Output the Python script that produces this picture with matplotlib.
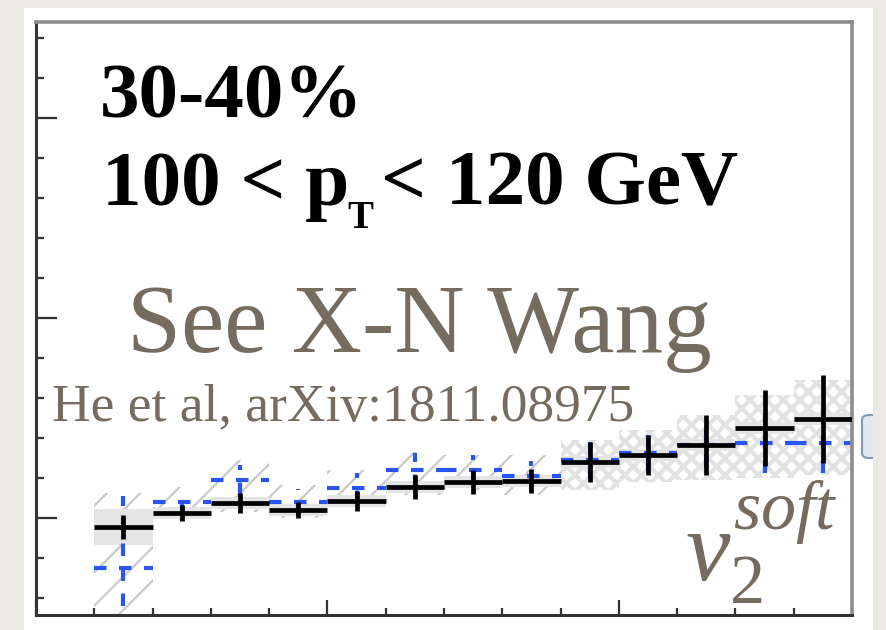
import numpy as np
import matplotlib.pyplot as plt
from matplotlib.patches import Rectangle, FancyBboxPatch

# bin edges in the jet variable, one bin per 0.1
bin_lo = [0.1, 0.2, 0.3, 0.4, 0.5, 0.6, 0.7, 0.8, 0.9, 1.0, 1.1, 1.2, 1.3]
bin_w = 0.1

# measured v2 (black) with stat. errors
data_v2 = [0.0478, 0.0512, 0.0538, 0.0520, 0.0543, 0.0578, 0.0590, 0.0593,
           0.0640, 0.0658, 0.0683, 0.0725, 0.0748]
data_err = [0.003, 0.002, 0.0025, 0.002, 0.0025, 0.003, 0.003, 0.003,
            0.005, 0.005, 0.0075, 0.0095, 0.011]
data_sys = [0.0045, 0.0015, 0.0015, 0.0015, 0.0015, 0.0015, 0.0015, 0.0015,
            0.0015, 0.0015, 0.0015, 0.0015, 0.0015]

# model curve (blue dashed) with errors
model_v2 = [0.0375, 0.0540, 0.0595, 0.0540, 0.0575, 0.0620, 0.0620, 0.0605,
            0.0645, 0.0663, 0.0683, 0.0688, 0.0688]
model_err = [0.018, 0.003, 0.0038, 0.0032, 0.0038, 0.0042, 0.0038, 0.0038,
             0.0045, 0.0045, 0.0055, 0.0075, 0.0075]

# hatched uncertainty bands (lower, upper)
band_lo = [0.0183, 0.0495, 0.0515, 0.0500, 0.0533, 0.0558, 0.0570, 0.0558,
           0.0570, 0.0590, 0.0595, 0.0600, 0.0608]
band_hi = [0.0563, 0.0578, 0.0645, 0.0583, 0.0620, 0.0665, 0.0658, 0.0658,
           0.0695, 0.0720, 0.0758, 0.0808, 0.0845]
n_diag = 8  # first bins drawn with diagonal hatch, rest cross-hatched

W, H = 886, 630
plt.rcParams["mathtext.fontset"] = "custom"
plt.rcParams["mathtext.rm"] = "Liberation Serif"
plt.rcParams["mathtext.it"] = "Liberation Serif:italic"

fig = plt.figure(figsize=(W / 100, H / 100), dpi=100, facecolor="#eae9e4")

# white slide panel
fig.patches.append(Rectangle((24 / W, 0), (873 - 24) / W, 1 - 8 / H,
                             transform=fig.transFigure, facecolor="white",
                             edgecolor="none", zorder=-1))

ax = fig.add_axes([36 / W, 15 / H, (852 - 36) / W, (615 - 22) / H])
ax.set_xlim(0, 1.4)
ax.set_ylim(0.02575, 0.174)

x_lo = np.array(bin_lo)
xc = x_lo + bin_w / 2
lo = np.array(band_lo)
hi = np.array(band_hi)

plt.rcParams["hatch.linewidth"] = 1.6
ax.bar(xc[:n_diag], (hi - lo)[:n_diag], bottom=lo[:n_diag], width=bin_w,
       facecolor="none", edgecolor="#c9c9c9", linewidth=0, hatch="/", zorder=1)
plt.rcParams["hatch.linewidth"] = 3.0
ax.bar(xc[n_diag:], (hi - lo)[n_diag:], bottom=lo[n_diag:], width=bin_w,
       facecolor="none", edgecolor="#e2e2e2", linewidth=0, hatch="xx", zorder=1)

# light boxes for the data systematics
sys = np.array(data_sys)
dv = np.array(data_v2)
ax.bar(xc, 2 * sys, bottom=dv - sys, width=bin_w, facecolor="#e4e4e4",
       edgecolor="none", zorder=1.5)

blue = "#2a55f5"
eb = ax.errorbar(xc, model_v2, yerr=model_err, xerr=bin_w / 2, fmt="none",
                 ecolor=blue, elinewidth=3, capsize=0, zorder=2)
for lc in eb.lines[2]:
    lc.set_linestyle((0, (3, 3)))

ax.errorbar(xc, data_v2, yerr=data_err, xerr=bin_w / 2, fmt="none",
            ecolor="black", elinewidth=3.4, capsize=0, zorder=3)

# frame and ticks
for side in ["left", "bottom"]:
    ax.spines[side].set_color("#333333")
    ax.spines[side].set_linewidth(2.2)
for side in ["top", "right"]:
    ax.spines[side].set_color("#8c8c8c")
    ax.spines[side].set_linewidth(2.6)

ax.set_xticks([0, 0.5, 1.0])
ax.set_xticks(np.arange(0, 1.41, 0.1), minor=True)
ax.set_yticks([0.05, 0.10, 0.15])
ax.set_yticks(np.arange(0.03, 0.174, 0.01), minor=True)
ax.tick_params(which="both", direction="in", top=False, right=False,
               labelbottom=False, labelleft=False, color="#333333", width=1.6)
ax.tick_params(axis="y", which="major", length=15)
ax.tick_params(axis="y", which="minor", length=6)
ax.tick_params(axis="x", which="major", length=11)
ax.tick_params(axis="x", which="minor", length=5)

# piece of a box at the right edge
box = FancyBboxPatch((862 / W, 1 - 458 / H), 30 / W, 43 / H,
                     boxstyle="round,pad=0,rounding_size=0.008",
                     transform=fig.transFigure, facecolor="#e3e8ef",
                     edgecolor="#8797ae", linewidth=1.5, zorder=1)
fig.patches.append(box)
clip = Rectangle((24 / W, 0), (873 - 24) / W, 1, transform=fig.transFigure)
box.set_clip_path(clip)


def put(px, py, s, **kw):
    fig.text(px / W, 1 - py / H, s, va="baseline", ha="left", **kw)


bold = dict(family="Liberation Serif", weight="bold", color="black")
put(100, 118, "30-40%", fontsize=57, **bold)
put(102, 205, "100 < p", fontsize=57, **bold)
put(347, 228, "T", fontsize=28, **bold)
put(381, 205, "< 120 GeV", fontsize=57, **bold)

grey = "#766b5f"
put(127, 352, "See X-N Wang", fontsize=70, family="Liberation Serif",
    color=grey)
put(52, 420, "He et al, arXiv:1811.08975", fontsize=38.5,
    family="Liberation Serif", color=grey)
put(685, 580, r"$v_{2}^{soft}$", fontsize=72, color=grey)

fig.savefig("out.png", dpi=100, facecolor=fig.get_facecolor())
